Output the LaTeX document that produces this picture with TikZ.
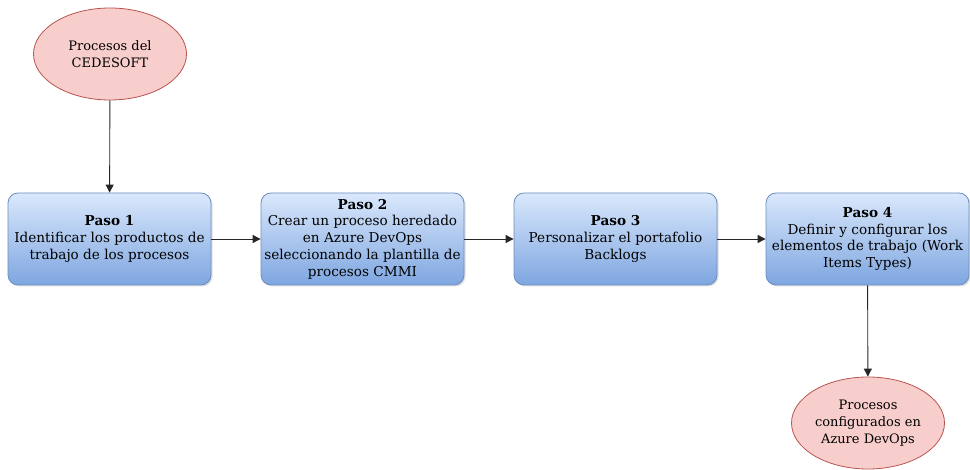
\documentclass[tikz,border=0pt]{standalone}
\usepackage{fontspec}
\setmainfont{DejaVu Serif}
\usetikzlibrary{shapes.geometric,arrows.meta,shadows}
\definecolor{redfill}{HTML}{F8CECC}
\definecolor{redline}{HTML}{B85450}
\definecolor{bluetop}{HTML}{DAE8FC}
\definecolor{bluebot}{HTML}{7EA6E0}
\definecolor{blueline}{HTML}{6C8EBF}
\tikzset{
  ovalnode/.style={ellipse, draw=redline, fill=redfill, line width=0.8pt,
    minimum width=153pt, minimum height=92pt, inner sep=0pt, align=center,
    font=\fontsize{13}{17}\selectfont},
  stepbox/.style={rounded corners=10pt, draw=blueline, line width=0.8pt,
    top color=bluetop, bottom color=bluebot,
    drop shadow={shadow xshift=1.5pt, shadow yshift=-1.5pt, opacity=0.25},
    minimum width=203pt, minimum height=92pt, inner sep=0pt, align=center,
    font=\fontsize{13.6}{16.7}\selectfont},
  conn/.style={-{Triangle[length=8pt,width=8pt]}, line width=0.9pt, black!85}
}
\begin{document}
\begin{tikzpicture}[x=1pt,y=-1pt]
\useasboundingbox (0,0) rectangle (970,470);
\node[ovalnode] (start) at (110,54) {Procesos del\\CEDESOFT};
\node[stepbox] (p1) at (109.5,239) {\textbf{Paso 1}\\Identificar los productos de\\trabajo de los procesos};
\node[stepbox] (p2) at (362.5,239) {\textbf{Paso 2}\\Crear un proceso heredado\\en Azure DevOps\\seleccionando la plantilla de\\procesos CMMI};
\node[stepbox] (p3) at (615.5,239) {\textbf{Paso 3}\\Personalizar el portafolio\\Backlogs};
\node[stepbox] (p4) at (867.5,239) {\textbf{Paso 4}\\Definir y configurar los\\elementos de trabajo (Work\\Items Types)};
\node[ovalnode] (end) at (868,423) {Procesos\\configurados en\\Azure DevOps};
\draw[conn] (start) -- (p1);
\draw[conn] (p1) -- (p2);
\draw[conn] (p2) -- (p3);
\draw[conn] (p3) -- (p4);
\draw[conn] (p4) -- (end);
\end{tikzpicture}
\end{document}
